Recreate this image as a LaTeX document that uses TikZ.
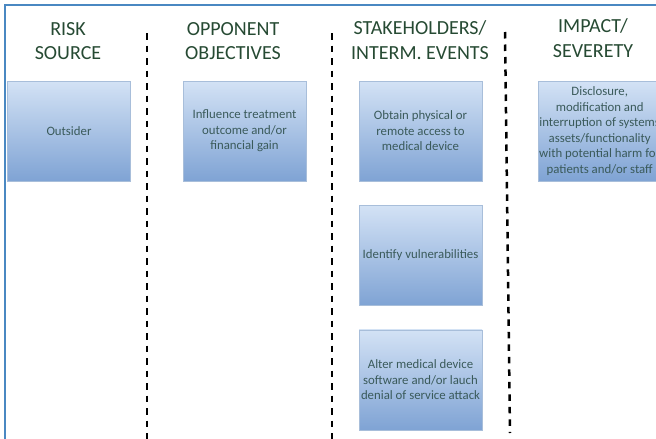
\documentclass[tikz,border=0pt]{standalone}
\usepackage{fontspec}
\setmainfont{Carlito}
\usetikzlibrary{positioning}
\definecolor{frameblue}{HTML}{4A88C2}
\definecolor{headgreen}{HTML}{264A33}
\definecolor{boxtext}{HTML}{3A5A5A}
\definecolor{boxtop}{HTML}{D3E2F5}
\definecolor{boxbot}{HTML}{7FA3D4}
\definecolor{boxline}{HTML}{A8BEDA}
\begin{document}
\begin{tikzpicture}[x=1pt,y=-1pt,
		head/.style={align=center,text=headgreen,font=\fontsize{20}{24.5}\selectfont},
		stepbox/.style={draw=boxline,top color=boxtop,bottom color=boxbot,
			minimum width=123pt,minimum height=100pt,inner sep=0pt,
			align=center,text=boxtext,font=\fontsize{12.8}{15.5}\selectfont},
		sepline/.style={line width=2.5pt,dash pattern=on 6.5pt off 6pt}]
		\useasboundingbox (0,0) rectangle (656,439);
		\clip (0,0) rectangle (656,439);
		% frame
		\draw[frameblue,line width=2pt] (5,439) -- (5,5) -- (656,5);
		% headers
		\node[head] (hsource) at (68,41) {RISK\\SOURCE};
		\node[head] (hgoal) at (233,41) {OPPONENT\\OBJECTIVES};
		\node[head] (hevent) at (420,40) {STAKEHOLDERS/\\INTERM. EVENTS};
		\node[head] (himpact) at (593,38) {IMPACT/\\SEVERETY};
		% separators
		\draw[sepline] (147,33) -- (147,439);
		\draw[sepline] (332,33) -- (332,439);
		\draw[sepline] (505,32) -- (510,433);
		% boxes
		\node[stepbox] (outsider) at (69,131) {Outsider};
		\node[stepbox] (gain) at (244.5,131) {Influence treatment\\outcome and/or\\financial gain};
		\node[stepbox] (access) at (420.5,131) {Obtain physical or\\remote access to\\medical device};
		\node[stepbox,below=24pt of access] (vuln) {Identify vulnerabilities};
		\node[stepbox,below=24pt of vuln] (alter) {Alter medical device\\software and/or lauch\\denial of service attack};
		\node[stepbox,anchor=west] (harm) at (538,131) {Disclosure,\\modification and\\interruption of systems\\assets/functionality\\with potential harm for\\patients and/or staff};
	\end{tikzpicture}
\end{document}
